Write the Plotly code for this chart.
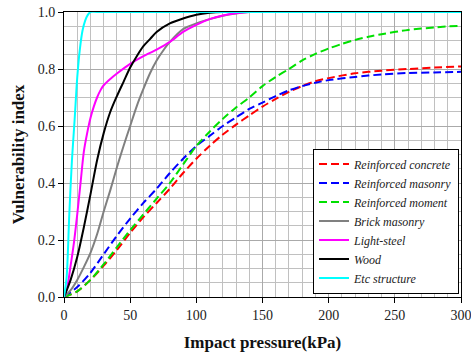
import plotly.graph_objects as go

x_rc = [0, 10, 20, 30, 40, 50, 60, 70, 80, 90, 100, 110, 120, 130, 140, 150, 160, 170, 180, 190, 200, 220, 240, 260, 280, 300]
y_rc = [0, 0.02, 0.06, 0.11, 0.165, 0.225, 0.28, 0.33, 0.38, 0.435, 0.485, 0.53, 0.57, 0.605, 0.637, 0.668, 0.695, 0.72, 0.74, 0.757, 0.768, 0.785, 0.794, 0.80, 0.805, 0.809]

x_rm = [0, 10, 20, 30, 40, 50, 60, 70, 80, 90, 100, 110, 120, 130, 140, 150, 160, 170, 180, 190, 200, 220, 240, 260, 280, 300]
y_rm = [0, 0.035, 0.085, 0.15, 0.215, 0.275, 0.33, 0.38, 0.435, 0.485, 0.53, 0.565, 0.60, 0.63, 0.66, 0.682, 0.705, 0.725, 0.74, 0.752, 0.761, 0.772, 0.781, 0.786, 0.788, 0.79]

x_mf = [0, 10, 20, 30, 40, 50, 60, 70, 80, 90, 100, 110, 120, 130, 140, 150, 160, 170, 180, 190, 200, 210, 220, 230, 240, 260, 280, 300]
y_mf = [0, 0.02, 0.06, 0.115, 0.175, 0.235, 0.29, 0.345, 0.40, 0.465, 0.53, 0.58, 0.625, 0.665, 0.70, 0.74, 0.772, 0.80, 0.83, 0.853, 0.872, 0.888, 0.902, 0.913, 0.922, 0.937, 0.946, 0.952]

x_bm = [0, 5, 10, 15, 20, 25, 30, 35, 40, 45, 50, 55, 60, 65, 70, 75, 80, 90, 100, 110, 120, 130, 140, 300]
y_bm = [0, 0.024, 0.06, 0.105, 0.155, 0.22, 0.30, 0.375, 0.455, 0.53, 0.60, 0.67, 0.73, 0.785, 0.83, 0.865, 0.895, 0.94, 0.96, 0.975, 0.987, 0.995, 1.0, 1.0]

x_ls = [0, 2.5, 5, 7.5, 10, 12.5, 15, 17.5, 20, 22.5, 25, 27.5, 30, 35, 40, 50, 60, 70, 80, 90, 100, 110, 120, 130, 140, 300]
y_ls = [0, 0.035, 0.11, 0.19, 0.29, 0.40, 0.51, 0.575, 0.628, 0.668, 0.70, 0.725, 0.743, 0.765, 0.784, 0.818, 0.845, 0.868, 0.895, 0.93, 0.955, 0.975, 0.988, 0.996, 1.0, 1.0]

x_wd = [0, 5, 10, 15, 20, 25, 30, 35, 40, 45, 50, 55, 60, 65, 70, 80, 90, 100, 110, 120, 300]
y_wd = [0, 0.06, 0.14, 0.245, 0.36, 0.48, 0.575, 0.65, 0.705, 0.755, 0.805, 0.845, 0.88, 0.905, 0.93, 0.96, 0.977, 0.99, 0.997, 1.0, 1.0]

x_etc = [0, 2, 4, 6, 8, 10, 12, 14, 16, 18, 20, 25, 300]
y_etc = [0, 0.07, 0.29, 0.48, 0.62, 0.77, 0.87, 0.935, 0.97, 0.99, 1.0, 1.0, 1.0]

series = [
    ("Reinforced concrete", x_rc, y_rc, "#ff0000", "8px,4px"),
    ("Reinforced masonry", x_rm, y_rm, "#0000ff", "8px,4px"),
    ("Reinforced moment", x_mf, y_mf, "#00e000", "8px,4px"),
    ("Brick masonry", x_bm, y_bm, "#808080", "solid"),
    ("Light-steel", x_ls, y_ls, "#ff00ff", "solid"),
    ("Wood", x_wd, y_wd, "#000000", "solid"),
    ("Etc structure", x_etc, y_etc, "#00ffff", "solid"),
]

fig = go.Figure()
for name, xs, ys, col, dash in series:
    fig.add_trace(go.Scatter(
        x=xs, y=ys, name=name, mode="lines",
        line=dict(color=col, width=2, dash=dash, shape="spline", smoothing=0.8),
    ))

serif = "Liberation Serif"
fig.update_layout(
    width=471, height=358,
    margin=dict(l=64, r=10, t=12, b=61),
    plot_bgcolor="white", paper_bgcolor="white",
    font=dict(family=serif, size=14, color="#222"),
    showlegend=True,
    legend=dict(
        x=0.995, y=0.012, xanchor="right", yanchor="bottom",
        bgcolor="white", bordercolor="black", borderwidth=1,
        font=dict(family=serif, size=12, style="italic", color="#222"),
        tracegroupgap=0, itemwidth=30,
    ),
    xaxis=dict(
        range=[0, 300], tickvals=[0, 50, 100, 150, 200, 250, 300],
        showgrid=True, gridcolor="#aaaaaa", gridwidth=1,
        minor=dict(dtick=10, showgrid=True, gridcolor="#c0c0c0", gridwidth=1),
        showline=True, linecolor="black", linewidth=1, mirror=True,
        ticks="outside", ticklen=5, tickcolor="black",
        zeroline=False, automargin=False, ticklabeloverflow="allow",
        tickfont=dict(family=serif, size=14, color="#222"),
        title=dict(text="<b>Impact pressure(kPa)</b>", font=dict(family=serif, size=17, color="#111"), standoff=14),
    ),
    yaxis=dict(
        range=[0, 1.0], tickvals=[0, 0.2, 0.4, 0.6, 0.8, 1.0], tickformat=".1f",
        showgrid=True, gridcolor="#aaaaaa", gridwidth=1,
        minor=dict(dtick=0.05, showgrid=True, gridcolor="#c0c0c0", gridwidth=1),
        showline=True, linecolor="black", linewidth=1, mirror=True,
        ticks="outside", ticklen=5, tickcolor="black",
        zeroline=False, automargin=False, ticklabeloverflow="allow",
        tickfont=dict(family=serif, size=14, color="#222"),
        title=dict(text="<b>Vulnerability index</b>", font=dict(family=serif, size=17, color="#111"), standoff=8),
    ),
)

fig.write_html("out.html", config={"displayModeBar": False},
               post_script="document.body.style.margin='0px';")
